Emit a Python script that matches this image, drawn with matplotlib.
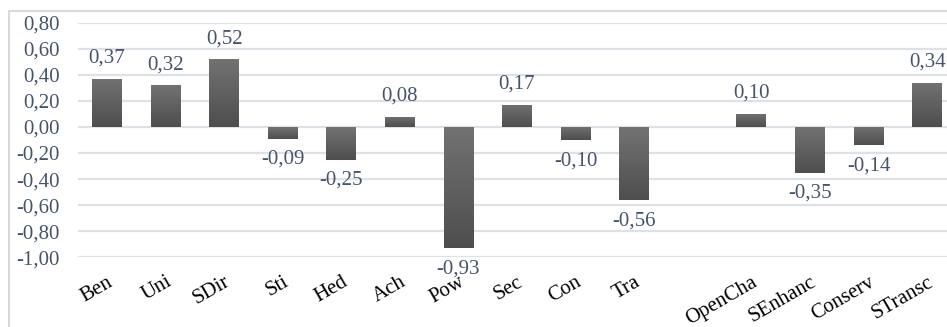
import numpy as np
import matplotlib
matplotlib.use("Agg")
import matplotlib.pyplot as plt
from matplotlib.colors import LinearSegmentedColormap
from matplotlib.patches import Rectangle

categories = ["Ben", "Uni", "SDir", "Sti", "Hed", "Ach", "Pow", "Sec", "Con", "Tra",
              "", "OpenCha", "SEnhanc", "Conserv", "STransc"]
values = [0.37, 0.32, 0.52, -0.09, -0.25, 0.08, -0.93, 0.17, -0.10, -0.56,
          np.nan, 0.10, -0.35, -0.14, 0.34]
yticks = [-1.0, -0.8, -0.6, -0.4, -0.2, 0.0, 0.2, 0.4, 0.6, 0.8]

plt.rcParams['font.family'] = ['Liberation Serif', 'DejaVu Serif']
txt_col = '#44546a'
grid_col = '#dde1e8'

fig = plt.figure(figsize=(9.47, 3.27), dpi=100)
ax = fig.add_axes([0.082, 0.2131, 0.928, 0.7175])

# chart frame (cropped on right/bottom like the original)
fig.patches.append(Rectangle((9 / 947, -0.05), 1.2, 1.05 - 11 / 327, transform=fig.transFigure,
                             fill=False, edgecolor='#d9d9d9', linewidth=1.5))

x = np.arange(len(categories))
vals = np.array(values, dtype=float)
bars = ax.bar(x, np.nan_to_num(vals), width=0.51, facecolor='none', edgecolor='none', zorder=3)

cmap = LinearSegmentedColormap.from_list('g', ['#4e4e4e', '#727272'])
grad = np.linspace(0, 1, 64).reshape(-1, 1)
for b, v in zip(bars, vals):
    if np.isnan(v):
        continue
    x0 = b.get_x()
    y0 = min(0, v)
    im = ax.imshow(grad, extent=[x0, x0 + b.get_width(), y0, y0 + abs(v)],
                   origin='lower', aspect='auto', cmap=cmap, zorder=3)
    im.set_clip_path(b)
    lab = ('%.2f' % v).replace('.', ',')
    if v >= 0:
        ax.annotate(lab, (b.get_x() + b.get_width() / 2, v), xytext=(0, 8),
                    textcoords='offset points', ha='center', va='bottom',
                    color=txt_col, fontsize=15)
    else:
        ax.annotate(lab, (b.get_x() + b.get_width() / 2, v), xytext=(0, -8),
                    textcoords='offset points', ha='center', va='top',
                    color=txt_col, fontsize=15)

ax.set_xlim(-0.5, len(categories) - 0.5)
ax.set_ylim(-1.0, 0.8)
ax.set_yticks(yticks)
ax.set_yticklabels([('%.2f' % t).replace('.', ',') for t in yticks], color=txt_col, fontsize=15)
ax.set_xticks(x)
ax.set_xticklabels(categories, rotation=30, ha='right', va='top', rotation_mode='anchor',
                   fontsize=15, color='black')
ax.tick_params(axis='y', length=0, pad=13)
ax.tick_params(axis='x', length=0, pad=11)
ax.yaxis.grid(True, color=grid_col, linewidth=1.6, zorder=0)
ax.set_axisbelow(True)
for s in ax.spines.values():
    s.set_visible(False)

fig.savefig('out.png', dpi=100)
